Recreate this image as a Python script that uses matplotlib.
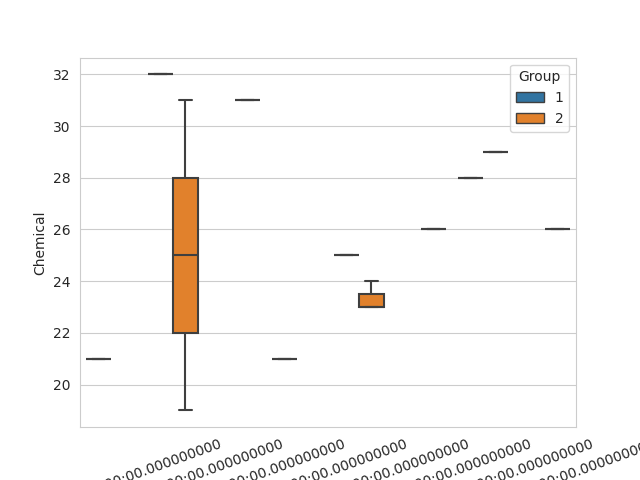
import matplotlib
matplotlib.use("Agg")
import matplotlib.pyplot as plt
import seaborn as sns
from pandas import DataFrame

# one row per observation
dates = [
    "2020-01-01T00:00:00.000000000",
    "2020-01-02T00:00:00.000000000",
    "2020-01-03T00:00:00.000000000",
    "2020-01-04T00:00:00.000000000",
    "2020-01-05T00:00:00.000000000",
    "2020-01-06T00:00:00.000000000",
    "2020-01-07T00:00:00.000000000",
    "2020-01-08T00:00:00.000000000",
]
date_idx = [0, 1, 1, 1, 1, 1, 1, 2, 3, 4, 4, 4, 4, 5, 6, 6, 7]
groups = [1, 1, 2, 2, 2, 2, 2, 2, 1, 1, 2, 2, 2, 2, 1, 2, 2]
chemical = [21, 32, 19, 22, 25, 28, 31, 31, 21, 25, 23, 23, 24, 26, 28, 29, 26]

df = DataFrame({
    "Date": [dates[i] for i in date_idx],
    "Group": groups,
    "Chemical": chemical,
})

sns.set_style("whitegrid")
fig = plt.figure(figsize=(6.4, 4.8), dpi=100)
ax = fig.add_subplot(1, 1, 1)
sns.boxplot(data=df, x="Date", y="Chemical", hue="Group", order=dates,
            hue_order=[1, 2], palette=["#1f77b4", "#ff7f0e"],
            saturation=0.75, linecolor="#3f3f3f", linewidth=1.5, ax=ax)
ax.set_xlabel("")
plt.xticks(rotation=20)
leg = ax.legend(title="Group", loc="upper right")
for h in leg.legend_handles:
    h.set_linewidth(1.0)

fig.savefig("out.png")
